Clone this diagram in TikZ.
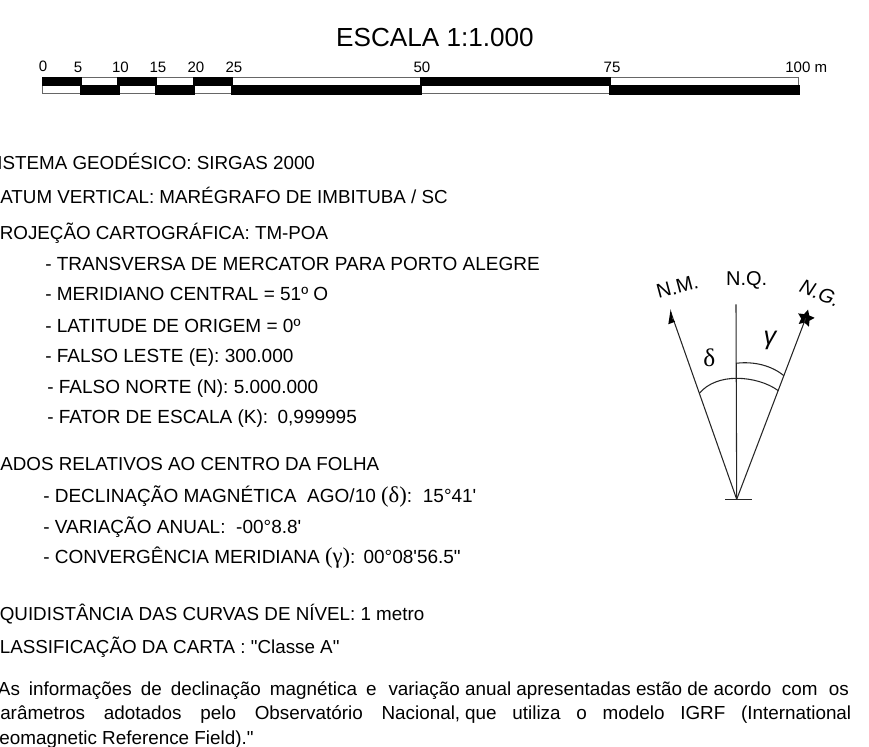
\documentclass[tikz,border=0pt]{standalone}
\usepackage{fontspec}
\setmainfont{Liberation Sans}
\newfontfamily\plainsans{Liberation Sans}
\newfontfamily\serifgreek{Liberation Serif}
\usetikzlibrary{shapes.geometric}
\tikzset{
	infotext/.style={anchor=base west, inner sep=0pt, font=\plainsans\fontsize{14.1}{16}\selectfont},
	tabtext/.style={anchor=base west, inner sep=0pt, font=\plainsans\fontsize{14.25}{16}\selectfont},
	notetext/.style={anchor=base west, inner sep=0pt, font=\plainsans\fontsize{14.15}{16}\selectfont},
	scalelabel/.style={anchor=base, inner sep=0pt, font=\fontsize{11.3}{13}\selectfont},
	northlabel/.style={inner sep=0pt, font=\fontsize{15}{16}\selectfont},
	scalebox/.style={draw=black!60, line width=0.5pt},
	blackbox/.style={fill=black},
	northline/.style={line width=0.8pt, color=black!85}
}
\newcommand{\paren}[1]{{\serifgreek\fontsize{17}{16}\selectfont(#1)}}
\newcommand{\valuefont}[1]{{\fontsize{#1}{16}\selectfont}}

\begin{document}
\begin{tikzpicture}[x=0.75pt, y=-0.75pt]
		%%%%% START %%%%%
		\useasboundingbox (0, 0) rectangle (869, 747);
		\clip (0, 0) rectangle (869, 747);

		\node[inner sep=0pt, anchor=base, font=\fontsize{19.6}{22}\selectfont] (title) at (435, 46) {ESCALA 1:1.000};

		\node[scalelabel] (s0) at (43, 71.5) {0};
		\node[scalelabel] (s5) at (78, 72.5) {5};
		\node[scalelabel] (s10) at (120.5, 72.5) {10};
		\node[scalelabel] (s15) at (158, 72.5) {15};
		\node[scalelabel] (s20) at (196, 72.5) {20};
		\node[scalelabel] (s25) at (234, 72.5) {25};
		\node[scalelabel] (s50) at (422, 72.5) {50};
		\node[scalelabel] (s75) at (612, 72.5) {75};
		\node[scalelabel, anchor=base west] (s100) at (785, 72.5) {100 m};

		\draw[scalebox] (42, 77.5) rectangle (798.5, 93.5);
		\draw[blackbox] (42, 77) rectangle (81, 85.5);
		\draw[blackbox] (117.5, 77) rectangle (156, 85.5);
		\draw[blackbox] (193, 77) rectangle (232, 85.5);
		\draw[blackbox] (420, 77) rectangle (610, 85.5);
		\draw[blackbox] (80, 85) rectangle (119, 94);
		\draw[blackbox] (155, 85) rectangle (194, 94);
		\draw[blackbox] (231, 85) rectangle (421, 94);
		\draw[blackbox] (609, 85) rectangle (799, 94);

		\node[infotext] (sistema) at (-15.5, 169) {SISTEMA GEODÉSICO: SIRGAS 2000};
		\node[infotext] (datum) at (-13.5, 203) {DATUM VERTICAL: MARÉGRAFO DE IMBITUBA / SC};
		\node[infotext] (projecao) at (-13, 239) {PROJEÇÃO CARTOGRÁFICA: TM-POA};
		\node[tabtext] (transversa) at (45, 270) {- TRANSVERSA DE MERCATOR PARA PORTO ALEGRE};
		\node[tabtext] (meridiano) at (45, 300) {- MERIDIANO CENTRAL = 51º O};
		\node[tabtext] (latitude) at (45, 332) {- LATITUDE DE ORIGEM = 0º};
		\node[tabtext] (leste) at (45, 362) {- FALSO LESTE (E): 300.000};
		\node[tabtext] (norte) at (47, 393) {- FALSO NORTE (N): 5.000.000};
		\node[tabtext] (fator) at (47, 423) {- FATOR DE ESCALA (K):\hspace{7pt}\valuefont{15.3}0,999995};

		\node[infotext] (dados) at (-13.5, 470) {DADOS RELATIVOS AO CENTRO DA FOLHA};
		\node[tabtext] (declinacao) at (43, 502) {- DECLINAÇÃO MAGNÉTICA\hspace{4pt} AGO/10 \paren{δ}:\hspace{8pt}\valuefont{13.7}15°41'};
		\node[tabtext] (variacao) at (43, 533) {- VARIAÇÃO ANUAL:\hspace{8pt}\valuefont{13.5}-00°8.8'};
		\node[tabtext] (convergencia) at (43, 563) {- CONVERGÊNCIA MERIDIANA \paren{γ}:\hspace{6pt}\valuefont{14}00°08'56.5"};

		\node[infotext] (equidistancia) at (-13, 620) {EQUIDISTÂNCIA DAS CURVAS DE NÍVEL: 1 metro};
		\node[infotext] (classificacao) at (-14, 653) {CLASSIFICAÇÃO DA CARTA : "Classe A"};

		\node[notetext] (nota1) at (-9, 695) {\makebox[289pt][s]{"As informações de declinação magnética e}\hspace{9pt}variação anual apresentadas estão de acordo\hspace{8pt}com\hspace{8.5pt}os};
		\node[notetext] (nota2) at (-10.5, 719) {\makebox[352.9pt][s]{parâmetros adotados pelo Observatório Nacional,}\hspace{3.75pt}\makebox[289.5pt][s]{que utiliza o modelo IGRF (International}};
		\node[notetext] (nota3) at (-15.5, 744) {Geomagnetic Reference Field)."};

		\coordinate (apex) at (736.7, 499.3);
		\coordinate (baseL) at (725, 499.3);
		\coordinate (baseR) at (751.7, 499.3);
		\coordinate (nqTop) at (736, 304.3);
		\coordinate (nmTip) at (670.7, 312);
		\coordinate (deltaL) at (699.3, 393.3);
		\coordinate (deltaM) at (736.7, 378.3);
		\coordinate (deltaR) at (778.3, 390.7);
		\coordinate (gammaL) at (736, 363.3);
		\coordinate (gammaR) at (784, 375.7);

		\node[star, star points=5, star point ratio=2, fill=black, inner sep=0pt, minimum size=13.5pt, rotate=-15] (ngStar) at (805.7, 318.3) {};

		\draw[northline] (baseL) -- (baseR);
		\draw[northline] (apex) -- (nqTop);
		\draw[northline] (apex) -- (nmTip);
		\draw[northline] (apex) -- (ngStar.center);
		\fill (670.7, 309) -- (672.5, 319) -- (675, 321.7) -- (668.3, 324.3) -- cycle;

		\draw[northline] (deltaL) .. controls (708, 383) and (722, 378.3) .. (deltaM) .. controls (752, 378.3) and (768, 383) .. (deltaR);
		\draw[northline] (gammaL) .. controls (755, 361) and (772, 366) .. (gammaR);

		\node[northlabel, rotate=15] (nmLabel) at (677.3, 286.7) {N.M.};
		\node[northlabel] (nqLabel) at (746.7, 280) {N.Q.};
		\node[northlabel, rotate=-22, font=\fontsize{15}{16}\selectfont\itshape] (ngLabel) at (820, 293.3) {N.G.};
		\node[northlabel, font=\serifgreek\fontsize{19}{16}\selectfont] (deltaLabel) at (709.3, 358) {δ};
		\node[northlabel, font=\fontsize{19}{16}\selectfont\itshape] (gammaLabel) at (770, 340) {γ};
		%%%%% END %%%%%
	\end{tikzpicture}
\end{document}
